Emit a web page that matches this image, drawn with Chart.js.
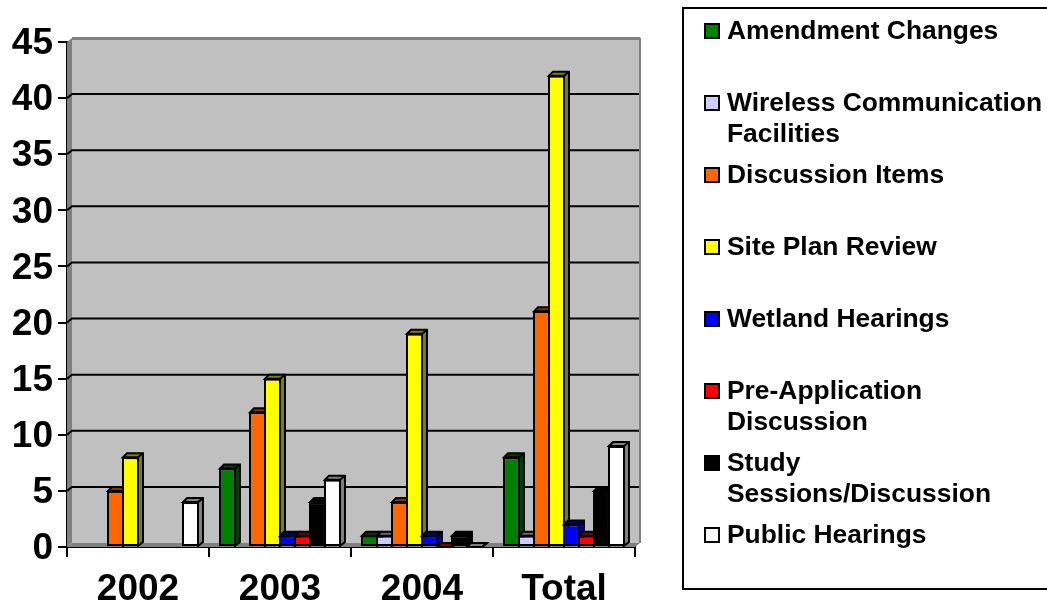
<!DOCTYPE html>
<html>
<head>
<meta charset="utf-8">
<style>
html,body{margin:0;padding:0;background:#fff;width:1047px;height:603px;overflow:hidden}
#wrap{position:relative;width:1047px;height:603px}
canvas{position:absolute;left:0;top:0}
#legend{position:absolute;left:682px;top:7px;width:372px;height:579px;border:2px solid #000;box-sizing:content-box;font:bold 26.4px/31px "Liberation Sans",Arial,sans-serif;color:#000}
.row{position:absolute;left:43px;width:322px}
.mark{position:absolute;left:-23px;top:8px;width:12px;height:12px;border:2px solid #000}
</style>
</head>
<body>
<div id="wrap">
<canvas id="c" width="1047" height="603"></canvas>
<div id="legend"></div>
</div>
<script src="https://cdn.jsdelivr.net/npm/chart.js@4"></script>
<script>
const categories = ['2002', '2003', '2004', 'Total'];
const yTicks = [0, 5, 10, 15, 20, 25, 30, 35, 40, 45];

const amendmentChanges = [null, 7, 1, 8];
const wirelessFacilities = [null, null, 1, 1];
const discussionItems = [5, 12, 4, 21];
const sitePlanReview = [8, 15, 19, 42];
const wetlandHearings = [null, 1, 1, 2];
const preApplication = [null, 1, 0, 1];
const studySessions = [null, 4, 1, 5];
const publicHearings = [4, 6, 0, 9];

const seriesNames = ['Amendment Changes', 'Wireless Communication Facilities', 'Discussion Items', 'Site Plan Review', 'Wetland Hearings', 'Pre-Application Discussion', 'Study Sessions/Discussion', 'Public Hearings'];
const seriesValues = [amendmentChanges, wirelessFacilities, discussionItems, sitePlanReview, wetlandHearings, preApplication, studySessions, publicHearings];
const faceColors = ['#008000', '#CCCCFF', '#FF6600', '#FFFF00', '#0000FF', '#FF0000', '#000000', '#FFFFFF'];
const shadeColors = ['#004000', '#666680', '#803300', '#808000', '#000080', '#800000', '#000000', '#808080'];

const DX = 5, DY = -4;

const wallPlugin = {
  id: 'wall',
  beforeDatasetsDraw(chart) {
    const c = chart.ctx, a = chart.chartArea, y = chart.scales.y;
    c.save();
    c.fillStyle = '#C0C0C0';
    c.fillRect(a.left + DX, a.top + DY, a.width, a.height);
    c.fillStyle = '#808080';
    c.beginPath();
    c.moveTo(a.left, a.top); c.lineTo(a.left + DX, a.top + DY);
    c.lineTo(a.left + DX, a.bottom + DY); c.lineTo(a.left, a.bottom); c.closePath(); c.fill();
    c.beginPath();
    c.moveTo(a.left, a.bottom); c.lineTo(a.left + DX, a.bottom + DY);
    c.lineTo(a.right + DX, a.bottom + DY); c.lineTo(a.right, a.bottom); c.closePath(); c.fill();
    c.fillRect(a.left + DX, a.top + DY - 1, a.width, 3);
    c.fillRect(a.right + DX - 1, a.top + DY, 2, a.height);
    c.strokeStyle = '#000'; c.lineWidth = 2;
    yTicks.forEach(t => {
      if (t === 0 || t === 45) return;
      const py = y.getPixelForValue(t);
      c.beginPath();
      c.moveTo(a.left, py); c.lineTo(a.left + DX, py + DY); c.lineTo(a.right + DX - 1, py + DY);
      c.stroke();
    });
    // bars left to right, so each bar hides the side face of the one before it
    seriesNames.forEach((name, i) => {
      const meta = chart.getDatasetMeta(i);
      c.fillStyle = shadeColors[i]; c.lineJoin = 'miter';
      meta.data.forEach((el, k) => {
        if (seriesValues[i][k] === null) return;
        const l = el.x - el.width / 2, r = el.x + el.width / 2, t = el.y, b = el.base;
        c.beginPath();
        c.moveTo(l + 1, t); c.lineTo(l + DX, t + DY); c.lineTo(r + DX - 1, t + DY);
        c.lineTo(r + DX - 1, b + DY); c.lineTo(r - 1, b); c.lineTo(r - 1, t); c.closePath();
        c.fill(); c.stroke();
        c.beginPath(); c.moveTo(r - 1, t); c.lineTo(r + DX - 1, t + DY); c.stroke();
      });
      meta.controller.draw();
    });
    c.restore();
  },
  beforeDatasetDraw() { return false; }
};

new Chart(document.getElementById('c'), {
  type: 'bar',
  data: {
    labels: categories,
    datasets: seriesNames.map((name, i) => ({
      label: name,
      data: seriesValues[i],
      backgroundColor: faceColors[i],
      borderColor: '#000',
      borderWidth: 2,
      borderSkipped: false,
      barPercentage: 1.13,
      categoryPercentage: 0.845
    }))
  },
  options: {
    responsive: false,
    animation: false,
    devicePixelRatio: 1,
    layout: { padding: { top: 42, right: 412, left: 0, bottom: 0 } },
    plugins: { legend: { display: false }, tooltip: { enabled: false }, title: { display: false } },
    scales: {
      x: {
        afterFit(s) { s.height = 56; },
        grid: { offset: true, drawOnChartArea: false, color: '#000', lineWidth: 2, tickLength: 10, tickColor: '#000' },
        border: { color: '#000', width: 2 },
        ticks: { color: '#000', font: { family: '"Liberation Sans"', weight: 'bold', size: 37 }, padding: 11, maxRotation: 0 }
      },
      y: {
        min: 0, max: 45,
        afterFit(s) { s.width = 67; },
        afterBuildTicks(s) { s.ticks = yTicks.map(v => ({ value: v })); },
        grid: { drawOnChartArea: false, color: '#000', lineWidth: 2, tickLength: 9, tickColor: '#000' },
        border: { color: '#000', width: 2 },
        ticks: { color: '#000', font: { family: '"Liberation Sans"', weight: 'bold', size: 37 }, padding: 5, labelOffset: 2 }
      }
    }
  },
  plugins: [wallPlugin]
});

const legend = document.getElementById('legend');
seriesNames.forEach((name, i) => {
  const row = document.createElement('div');
  row.className = 'row';
  row.style.top = (6 + 72 * i) + 'px';
  const m = document.createElement('span');
  m.className = 'mark';
  m.style.background = faceColors[i];
  row.appendChild(m);
  row.appendChild(document.createTextNode(name));
  legend.appendChild(row);
});
</script>
</body>
</html>
